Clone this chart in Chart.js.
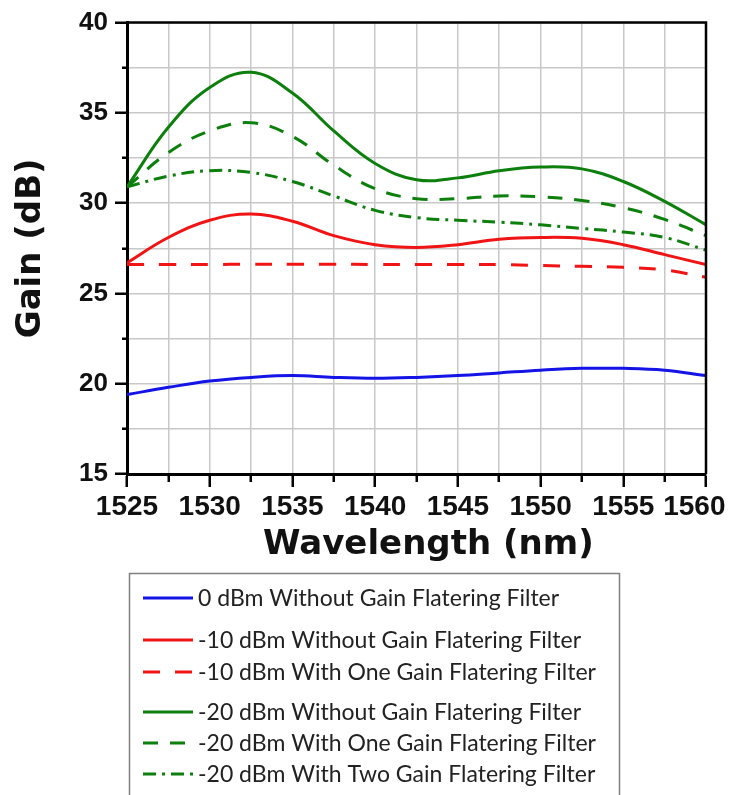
<!DOCTYPE html>
<html>
<head>
<meta charset="utf-8">
<script src="https://cdn.jsdelivr.net/npm/chart.js@4.4.1/dist/chart.umd.min.js"></script>
<style>
  body { margin: 0; background: #fff; }
  #wrap { width: 729px; height: 795px; }
</style>
</head>
<body>
<div id="wrap"><canvas id="gainChart" width="729" height="795"></canvas></div>
<script>
// wavelength (nm) sample points
const wavelength = [1525, 1527.5, 1530, 1532.5, 1535, 1537.5, 1540, 1542.5, 1545, 1547.5, 1550, 1552.5, 1555, 1557.5, 1560];

// gain (dB)
const gain0dBm      = [19.4, 19.8, 20.15, 20.35, 20.45, 20.35, 20.3, 20.35, 20.45, 20.6, 20.75, 20.85, 20.85, 20.75, 20.45];
const gain10dBm     = [26.7, 28.1, 29.05, 29.4, 29.0, 28.2, 27.7, 27.55, 27.7, 28.0, 28.1, 28.05, 27.7, 27.15, 26.6];
const gain10dBmOne  = [26.6, 26.6, 26.6, 26.62, 26.62, 26.62, 26.6, 26.6, 26.6, 26.6, 26.55, 26.5, 26.45, 26.3, 25.9];
const gain20dBm     = [30.9, 34.2, 36.4, 37.25, 36.1, 34.0, 32.2, 31.3, 31.4, 31.8, 32.0, 31.9, 31.2, 30.1, 28.8];
const gain20dBmOne  = [30.9, 32.8, 34.0, 34.45, 33.7, 32.1, 30.8, 30.25, 30.25, 30.4, 30.35, 30.15, 29.75, 29.1, 28.2];
const gain20dBmTwo  = [30.9, 31.5, 31.8, 31.7, 31.2, 30.4, 29.6, 29.2, 29.05, 28.95, 28.8, 28.6, 28.4, 28.1, 27.4];

const seriesNames = [
  '0 dBm Without Gain Flatering Filter',
  '-10 dBm Without Gain Flatering Filter',
  '-10 dBm With One Gain Flatering Filter',
  '-20 dBm Without Gain Flatering Filter',
  '-20 dBm With One Gain Flatering Filter',
  '-20 dBm With Two Gain Flatering Filter'
];

const xTicks = [1525, 1530, 1535, 1540, 1545, 1550, 1555, 1560];
const xTickLabels = ['1525', '1530', '1535', '1540', '1545', '1550', '1555', '1560'];
const yTicks = [15, 20, 25, 30, 35, 40];
const yTickLabels = ['15', '20', '25', '30', '35', '40'];

function pts(vals) {
  return wavelength.map((w, i) => ({x: w, y: vals[i]}));
}

const BLUE = '#1414e6', RED = '#f01414', GREEN = '#0c7f0c';

function series(name, vals, color, dash) {
  return {
    label: name,
    data: pts(vals),
    borderColor: color,
    backgroundColor: color,
    borderWidth: 3,
    borderDash: dash,
    pointRadius: 0,
    tension: 0.4,
    fill: false
  };
}

// box round the plot and the legend underneath
const legendRows = [598, 640, 672, 712, 743, 774];
const frameAndLegend = {
  id: 'frameAndLegend',
  afterDatasetsDraw(chart) {
    const {ctx, chartArea: a} = chart;
    ctx.save();
    ctx.strokeStyle = '#000';
    ctx.lineWidth = 2.5;
    ctx.beginPath();
    ctx.moveTo(a.left, a.top);
    ctx.lineTo(a.right, a.top);
    ctx.lineTo(a.right, a.bottom);
    ctx.stroke();
    ctx.restore();
  },
  afterDraw(chart) {
    const ctx = chart.ctx;
    ctx.save();
    ctx.strokeStyle = '#808080';
    ctx.lineWidth = 1.5;
    ctx.strokeRect(129.5, 573.5, 490, 260);
    ctx.font = '23px Lato';
    ctx.textBaseline = 'middle';
    ctx.fillStyle = '#222';
    chart.data.datasets.forEach((ds, i) => {
      const y = legendRows[i];
      ctx.strokeStyle = ds.borderColor;
      ctx.lineWidth = 3;
      ctx.setLineDash(ds.borderDash || []);
      ctx.beginPath();
      ctx.moveTo(143, y);
      ctx.lineTo(193, y);
      ctx.stroke();
      ctx.setLineDash([]);
      ctx.fillText(ds.label, 198, y + 1);
    });
    ctx.restore();
  }
};

new Chart(document.getElementById('gainChart'), {
  type: 'line',
  data: {
    datasets: [
      series(seriesNames[0], gain0dBm, BLUE, []),
      series(seriesNames[1], gain10dBm, RED, []),
      series(seriesNames[2], gain10dBmOne, RED, [17, 15]),
      series(seriesNames[3], gain20dBm, GREEN, []),
      series(seriesNames[4], gain20dBmOne, GREEN, [15, 12]),
      series(seriesNames[5], gain20dBmTwo, GREEN, [13, 6, 3, 6])
    ]
  },
  options: {
    responsive: false,
    animation: false,
    layout: {padding: {top: 22, right: 23, left: 0, bottom: 230}},
    plugins: {legend: {display: false}, tooltip: {enabled: false}},
    scales: {
      x: {
        type: 'linear',
        min: 1525,
        max: 1560,
        afterFit: (s) => { s.height = 91; s.paddingLeft = 0; s.paddingRight = 0; },
        border: {color: '#000', width: 3},
        grid: {
          color: '#c8c8c8',
          lineWidth: 1.5,
          tickColor: '#000',
          tickWidth: 2.5,
          tickLength: 13,
          tickBorderDash: (c) => (c.tick && c.tick.value % 5 === 0) ? [] : [6, 100]
        },
        ticks: {
          stepSize: 2.5,
          autoSkip: false,
          maxRotation: 0,
          padding: 3,
          color: '#111',
          font: {family: '"Liberation Sans", Arial', size: 28, weight: 'bold'},
          callback: (v) => {
            const i = xTicks.indexOf(v);
            if (i < 0) return '';
            return i === xTicks.length - 1 ? xTickLabels[i] + '   ' : xTickLabels[i];
          }
        },
        title: {
          display: true,
          text: '  Wavelength (nm)',
          color: '#111',
          padding: {top: 0, bottom: 3},
          font: {family: '"DejaVu Sans"', size: 34, weight: 'bold', lineHeight: 1}
        }
      },
      y: {
        min: 15,
        max: 40,
        afterFit: (s) => { s.width = 127; },
        border: {color: '#000', width: 3},
        grid: {
          color: '#c8c8c8',
          lineWidth: 1.5,
          tickColor: '#000',
          tickWidth: 2.5,
          tickLength: 12,
          tickBorderDash: (c) => (c.tick && c.tick.value % 5 === 0) ? [] : [0, 7, 5, 100]
        },
        ticks: {
          stepSize: 2.5,
          padding: 7,
          color: '#111',
          font: {family: '"Liberation Sans", Arial', size: 26, weight: 'bold'},
          callback: (v) => {
            const i = yTicks.indexOf(v);
            return i < 0 ? '' : yTickLabels[i];
          }
        },
        title: {
          display: true,
          text: 'Gain (dB)',
          color: '#111',
          padding: {top: 14, bottom: 0},
          font: {family: '"DejaVu Sans"', size: 34, weight: 'bold', lineHeight: 1}
        }
      }
    }
  },
  plugins: [frameAndLegend]
});
</script>
</body>
</html>
